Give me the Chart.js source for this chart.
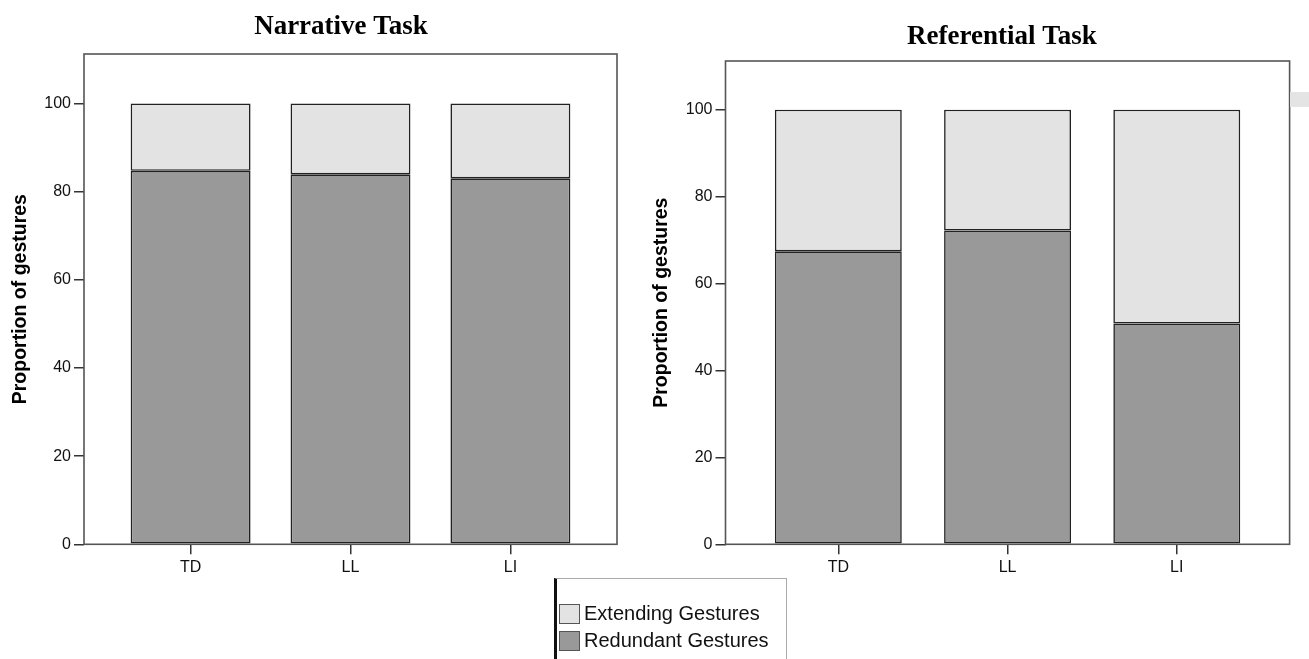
<!DOCTYPE html>
<html>
<head>
<meta charset="utf-8">
<script src="https://cdn.jsdelivr.net/npm/chart.js@4.4.1/dist/chart.umd.min.js"></script>
<style>
  html, body { margin: 0; padding: 0; background: #fff; overflow: hidden; }
  body { width: 1309px; height: 659px; position: relative; }
  canvas { position: absolute; top: 0; }
  #narrative { left: 0; }
  #referential { left: 640px; }
  #legend {
    position: absolute; left: 554px; top: 578px; width: 233px; height: 90px;
    border-left: 3px solid #111; border-top: 1px solid #aaa; border-right: 1px solid #aaa;
    font-family: "Liberation Sans", Arial, sans-serif; font-size: 20px; color: #111;
    padding-top: 21px; box-sizing: border-box;
  }
  .item { display: flex; align-items: center; height: 27px; padding-left: 2px; }
  .swatch { width: 19px; height: 18px; border: 1px solid #555; margin-right: 4px; }
  #clip { position: absolute; left: 1290px; top: 92px; width: 19px; height: 15px; background: #e4e4e4; }
</style>
</head>
<body>
<canvas id="narrative" width="682" height="600"></canvas>
<canvas id="referential" width="724" height="600"></canvas>
<div id="legend"></div>
<div id="clip"></div>
<script>
/* --------------- Data --------------------- */
const categories = ["TD", "LL", "LI"];
const narrativeRedundant = [84.7, 83.9, 83.0];
const narrativeExtending = [15.3, 16.1, 17.0];
const referentialRedundant = [67.4, 72.2, 50.8];
const referentialExtending = [32.6, 27.8, 49.2];
const yTickValues = [0, 20, 40, 60, 80, 100];
const seriesNames = ["Redundant Gestures", "Extending Gestures"];
const seriesColors = ["#999999", "#e3e3e3"];

/* --------------- Frame round the plot --------------------- */
const framePlugin = {
  id: "frame",
  afterDraw(chart) {
    const { ctx, chartArea: a } = chart;
    ctx.save();
    ctx.strokeStyle = "#555";
    ctx.lineWidth = 1.6;
    ctx.strokeRect(a.left, a.top, a.right - a.left, a.bottom - a.top);
    ctx.restore();
  },
};

const toPoints = (values) => values.map((v, i) => ({ x: i + 1, y: v }));

const makeChart = (canvas, titleText, redundant, extending, g) => {
  return new Chart(canvas, {
    type: "bar",
    plugins: [framePlugin],
    data: {
      datasets: [
        { label: seriesNames[0], data: toPoints(redundant), backgroundColor: seriesColors[0] },
        { label: seriesNames[1], data: toPoints(extending), backgroundColor: seriesColors[1] },
      ].map((d) => ({
        ...d,
        yAxisID: "y",
        borderColor: "#222",
        borderWidth: 1.6,
        borderSkipped: false,
        barPercentage: 0.75,
        categoryPercentage: 1,
      })),
    },
    options: {
      responsive: false,
      animation: false,
      events: [],
      layout: { padding: 0 },
      plugins: {
        legend: { display: false },
        tooltip: { enabled: false },
        title: {
          display: true,
          text: titleText,
          color: "#000",
          font: { family: "'Liberation Serif', 'Times New Roman', serif", size: 27, weight: "bold" },
          padding: { top: g.titleTop, bottom: g.titleBottom },
        },
      },
      scales: {
        x: {
          type: "linear",
          stacked: true,
          min: 1 / 3,
          max: 11 / 3,
          offset: false,
          afterBuildTicks: (s) => { s.ticks = categories.map((_, i) => ({ value: i + 1 })); },
          afterFit: (s) => { s.height = 600 - 544.3; },
          grid: { display: true, offset: false, drawOnChartArea: false, drawTicks: true, tickLength: 10, color: "#333", lineWidth: 1.5 },
          border: { display: false },
          ticks: {
            callback: (v) => categories[Math.round(v) - 1],
            color: "#111",
            padding: 4,
            maxRotation: 0,
            font: { family: "'Liberation Sans', Arial, sans-serif", size: 16 },
          },
        },
        y: {
          type: "linear",
          position: "left",
          stacked: true,
          min: 0,
          max: 111.2,
          afterBuildTicks: (s) => { s.ticks = yTickValues.map((v) => ({ value: v })); },
          afterFit: (s) => { s.width = g.axisWidth; },
          grid: { display: true, drawOnChartArea: false, drawTicks: true, tickLength: 10, color: "#333", lineWidth: 1.5 },
          border: { display: false },
          ticks: {
            color: "#111",
            padding: 3,
            font: { family: "'Liberation Sans', Arial, sans-serif", size: 16 },
          },
          title: {
            display: true,
            text: "Proportion of gestures",
            color: "#000",
            padding: { top: g.yTitlePad, bottom: 0 },
            font: { family: "'Liberation Sans', Arial, sans-serif", size: 19.5, weight: "bold" },
          },
        },
        // empty strip on the right, only there to centre the title like the original
        pad: {
          type: "linear",
          position: "right",
          display: true,
          grid: { display: false },
          border: { display: false },
          ticks: { display: false },
          afterFit: (s) => { s.width = g.padWidth; },
        },
      },
    },
  });
};

makeChart(document.getElementById("narrative"), "Narrative Task",
  narrativeRedundant, narrativeExtending,
  { axisWidth: 84, padWidth: 65, titleTop: 10.5, titleBottom: 11.1, yTitlePad: 9 });

makeChart(document.getElementById("referential"), "Referential Task",
  referentialRedundant, referentialExtending,
  { axisWidth: 85.5, padWidth: 74.4, titleTop: 20.5, titleBottom: 8.1, yTitlePad: 9.6 });

/* --------------- Shared legend --------------------- */
const legend = document.getElementById("legend");
[1, 0].forEach((i) => {
  const row = document.createElement("div");
  row.className = "item";
  row.innerHTML = `<span class="swatch" style="background:${seriesColors[i]}"></span><span>${seriesNames[i]}</span>`;
  legend.appendChild(row);
});
</script>
</body>
</html>
